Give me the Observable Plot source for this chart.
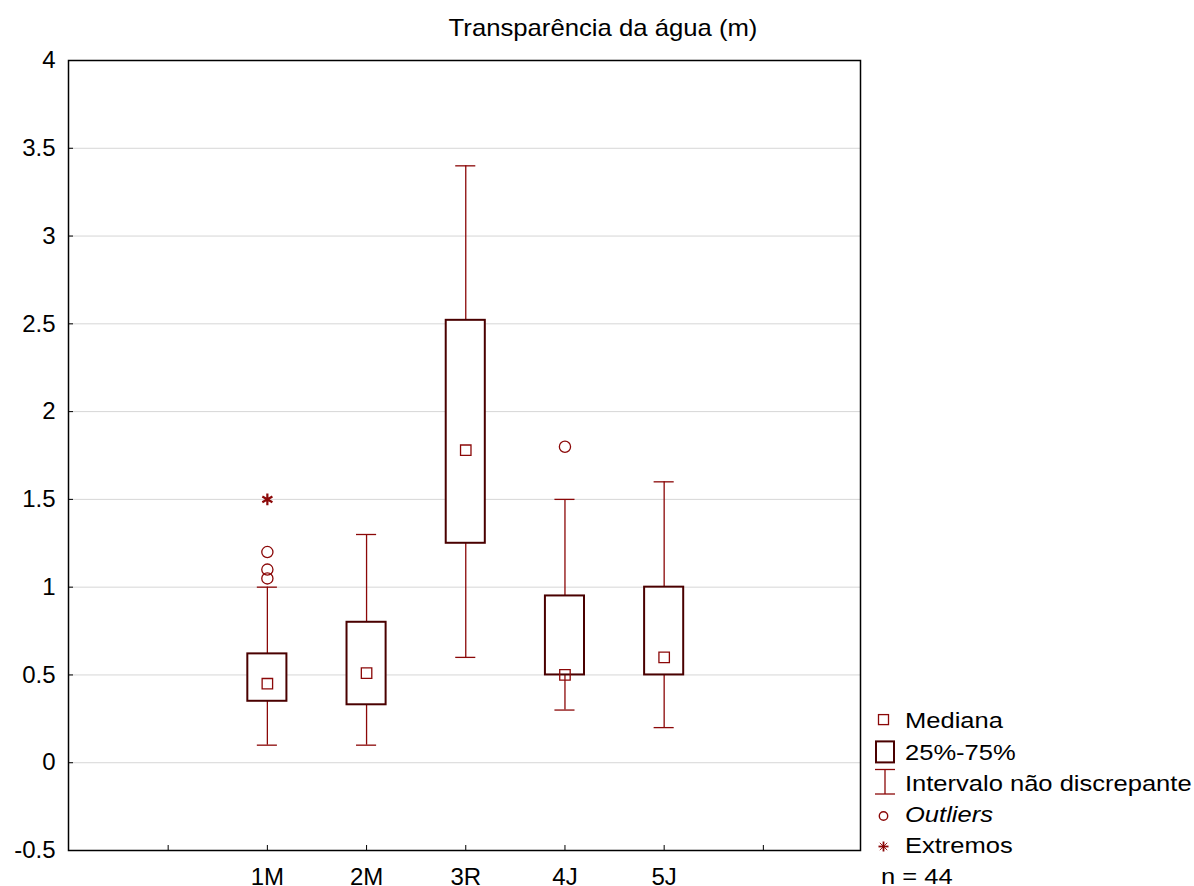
<!DOCTYPE html>
<html>
<head>
<meta charset="utf-8">
<script src="https://cdn.jsdelivr.net/npm/d3@7"></script>
<script src="https://cdn.jsdelivr.net/npm/@observablehq/plot@0.6"></script>
<style>
  html, body { margin: 0; padding: 0; background: white; }
  #wrap { position: relative; width: 1194px; height: 886px; overflow: hidden; font-family: "Liberation Sans", Arial, sans-serif; }
  #title { position: absolute; top: 16px; left: 603px; font-size: 24px; line-height: 24px; white-space: nowrap; transform: translateX(-50%) scaleX(1.07); color: #000; }
  .lrow { position: absolute; left: 875px; height: 22px; width: 319px; }
  .lrow svg { position: absolute; left: 0; top: 0; overflow: visible; }
  .ltext { position: absolute; left: 30px; top: 0; font-size: 22px; line-height: 22px; white-space: nowrap; transform: scaleX(1.16); transform-origin: left center; color: #000; }
</style>
</head>
<body>
<div id="wrap">
  <div id="chart"></div>
  <div id="title">Transparência da água (m)</div>
  <div id="legend"></div>
</div>
<script>
// ---- data ----
const categories  = ["1M", "2M", "3R", "4J", "5J"];
const lowWhisker  = [0.10, 0.10, 0.60, 0.30, 0.20];
const q1          = [0.35, 0.33, 1.25, 0.50, 0.50];
const median      = [0.45, 0.51, 1.78, 0.50, 0.60];
const q3          = [0.62, 0.80, 2.52, 0.95, 1.00];
const highWhisker = [1.00, 1.30, 3.40, 1.50, 1.60];
const outlierCats = ["1M", "1M", "1M", "4J"];
const outlierVals = [1.20, 1.10, 1.05, 1.80];
const extremeCats = ["1M"];
const extremeVals = [1.50];
const yTicks = [-0.5, 0, 0.5, 1, 1.5, 2, 2.5, 3, 3.5, 4];
const xDomain = [" ", ...categories, "  "];
const legendLabels = ["Mediana", "25%-75%", "Intervalo não discrepante", "Outliers", "Extremos"];
const nLabel = "n = 44";

const BOX = "#4a0000";
const RED = "#8b0808";

const rows = categories.map((c, i) => ({cat: c, lo: lowWhisker[i], q1: q1[i], med: median[i], q3: q3[i], hi: highWhisker[i]}));
const outliers = outlierCats.map((c, i) => ({cat: c, v: outlierVals[i]}));
const extremes = extremeCats.map((c, i) => ({cat: c, v: extremeVals[i]}));

const chart = Plot.plot({
  width: 1194,
  height: 886,
  marginLeft: 68,
  marginRight: 334,
  marginTop: 60,
  marginBottom: 36,
  style: {fontFamily: "'Liberation Sans', Arial, sans-serif", fontSize: "24px", color: "black", background: "white", overflow: "visible"},
  x: {type: "band", domain: xDomain, paddingInner: 0.606, paddingOuter: 0.795, align: 0.508, round: false, label: null},
  y: {domain: [-0.5, 4], label: null},
  marks: [
    Plot.gridY(yTicks.slice(1, -1), {stroke: "#d6d6d6", strokeOpacity: 1, strokeWidth: 1}),
    Plot.ruleX(rows, {x: "cat", y1: "q3", y2: "hi", stroke: RED, strokeWidth: 1.3}),
    Plot.ruleX(rows, {x: "cat", y1: "lo", y2: "q1", stroke: RED, strokeWidth: 1.3}),
    Plot.tickY(rows, {x: "cat", y: "hi", insetLeft: 9.5, insetRight: 9.5, stroke: RED, strokeWidth: 1.3}),
    Plot.tickY(rows, {x: "cat", y: "lo", insetLeft: 9.5, insetRight: 9.5, stroke: RED, strokeWidth: 1.3}),
    Plot.barY(rows, {x: "cat", y1: "q1", y2: "q3", fill: "white", stroke: BOX, strokeWidth: 2}),
    Plot.dot(rows, {x: "cat", y: "med", symbol: "square", r: 5.9, fill: "none", stroke: RED, strokeWidth: 1.3}),
    Plot.dot(outliers, {x: "cat", y: "v", r: 5.6, fill: "none", stroke: RED, strokeWidth: 1.3}),
    Plot.dot(extremes, {x: "cat", y: "v", symbol: "asterisk", r: 5.5, stroke: RED, strokeWidth: 2.2}),
    Plot.axisY(yTicks, {tickSize: 0, tickPadding: 13, tickFormat: d => String(d)}),
    Plot.axisY(yTicks, {tickSize: 5, dx: 5, tickFormat: () => ""}),
    Plot.axisX({tickSize: 0, tickPadding: 17}),
    Plot.axisX({tickSize: 5, dy: -5, tickFormat: () => ""}),
    Plot.frame({stroke: "black", strokeWidth: 1.5})
  ]
});
document.getElementById("chart").appendChild(chart);

// ---- legend (HTML) ----
const legend = document.getElementById("legend");
const icons = [
  `<svg width="20" height="22"><rect x="3.5" y="4.6" width="10" height="10" fill="none" stroke="${RED}" stroke-width="1.3"/></svg>`,
  `<svg width="20" height="22"><rect x="1" y="-0.6" width="18" height="21" fill="none" stroke="${BOX}" stroke-width="2"/></svg>`,
  `<svg width="20" height="22"><line x1="10" x2="10" y1="-3.5" y2="21" stroke="${RED}" stroke-width="1.3"/><line x1="0" x2="20" y1="-3.5" y2="-3.5" stroke="${RED}" stroke-width="1.3"/><line x1="0" x2="20" y1="21" y2="21" stroke="${RED}" stroke-width="1.3"/></svg>`,
  `<svg width="20" height="22"><circle cx="8.5" cy="12" r="4.2" fill="none" stroke="${RED}" stroke-width="1.4"/></svg>`,
  `<svg width="20" height="22"><g stroke="${RED}" stroke-width="1.8"><line x1="8.5" x2="8.5" y1="6.5" y2="16.5"/><line x1="3.5" x2="13.5" y1="11.5" y2="11.5"/><line x1="4.8" x2="12.2" y1="7.8" y2="15.2" stroke-width="0.9"/><line x1="4.8" x2="12.2" y1="15.2" y2="7.8" stroke-width="0.9"/></g></svg>`
];
legendLabels.forEach((lab, i) => {
  const row = document.createElement("div");
  row.className = "lrow";
  row.style.top = (710.4 + i * 31.2) + "px";
  const txt = i === 3 ? `<i>${lab}</i>` : lab;
  row.innerHTML = icons[i] + `<div class="ltext">${txt}</div>`;
  legend.appendChild(row);
});
const nrow = document.createElement("div");
nrow.className = "lrow";
nrow.style.top = (710.4 + 5 * 31.2) + "px";
nrow.innerHTML = `<div class="ltext" style="left:6px">${nLabel}</div>`;
legend.appendChild(nrow);
</script>
</body>
</html>
